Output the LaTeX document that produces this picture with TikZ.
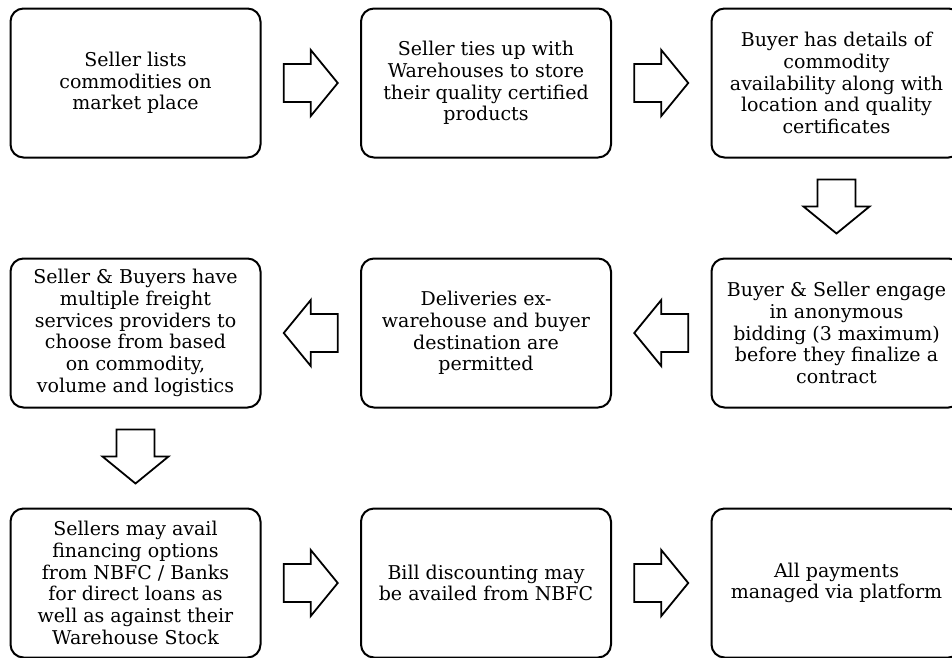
\documentclass[tikz,border=0pt]{standalone}
\usepackage{fontspec}
\setmainfont{DejaVu Serif}
\usetikzlibrary{calc}
\begin{document}
\begin{tikzpicture}[x=1pt,y=-1pt,
  stepbox/.style={draw, line width=2pt, rounded corners=13pt, minimum width=250pt, minimum height=149pt, align=center, inner sep=0pt, font=\fontsize{19}{21.7}\selectfont},
  barrow/.pic={\draw[line width=1.8pt, line join=miter, fill=white] (-27,-19) -- (0,-19) -- (0,-33) -- (27,0) -- (0,33) -- (0,19) -- (-27,19) -- cycle;}
]
\useasboundingbox (0,0) rectangle (952,657);
% row 1
\node[stepbox] (b1) at (135.5,83) {Seller lists\\commodities on\\market place};
\node[stepbox] (b2) at (486,83) {Seller ties up with\\Warehouses to store\\their quality certified\\products};
\node[stepbox] (b3) at (836.5,83) {Buyer has details of\\commodity\\availability along with\\location and quality\\certificates};
% row 2
\node[stepbox] (b4) at (135.5,333) {Seller \& Buyers have\\multiple freight\\services providers to\\choose from based\\on commodity,\\volume and logistics};
\node[stepbox] (b5) at (486,333) {Deliveries ex-\\warehouse and buyer\\destination are\\permitted};
\node[stepbox] (b6) at (836.5,333) {Buyer \& Seller engage\\in anonymous\\bidding (3 maximum)\\before they finalize a\\contract};
% row 3
\node[stepbox] (b7) at (135.5,583) {Sellers may avail\\financing options\\from NBFC / Banks\\for direct loans as\\well as against their\\Warehouse Stock};
\node[stepbox] (b8) at (486,583) {Bill discounting may\\be availed from NBFC};
\node[stepbox] (b9) at (836.5,583) {All payments\\managed via platform};
% connector positions
\coordinate (c12) at ($(b1.east)!0.5!(b2.west)$);
\coordinate (c23) at ($(b2.east)!0.5!(b3.west)$);
\coordinate (c36) at ($(b3.south)!0.5!(b6.north)+(0,-1.5)$);
\coordinate (c65) at ($(b6.west)!0.5!(b5.east)$);
\coordinate (c54) at ($(b5.west)!0.5!(b4.east)$);
\coordinate (c47) at ($(b4.south)!0.5!(b7.north)+(0,-1.5)$);
\coordinate (c78) at ($(b7.east)!0.5!(b8.west)$);
\coordinate (c89) at ($(b8.east)!0.5!(b9.west)$);
\pic at (c12) {barrow};
\pic at (c23) {barrow};
\pic[rotate=-90] at (c36) {barrow};
\pic[rotate=180] at (c65) {barrow};
\pic[rotate=180] at (c54) {barrow};
\pic[rotate=-90] at (c47) {barrow};
\pic at (c78) {barrow};
\pic at (c89) {barrow};
\end{tikzpicture}
\end{document}
